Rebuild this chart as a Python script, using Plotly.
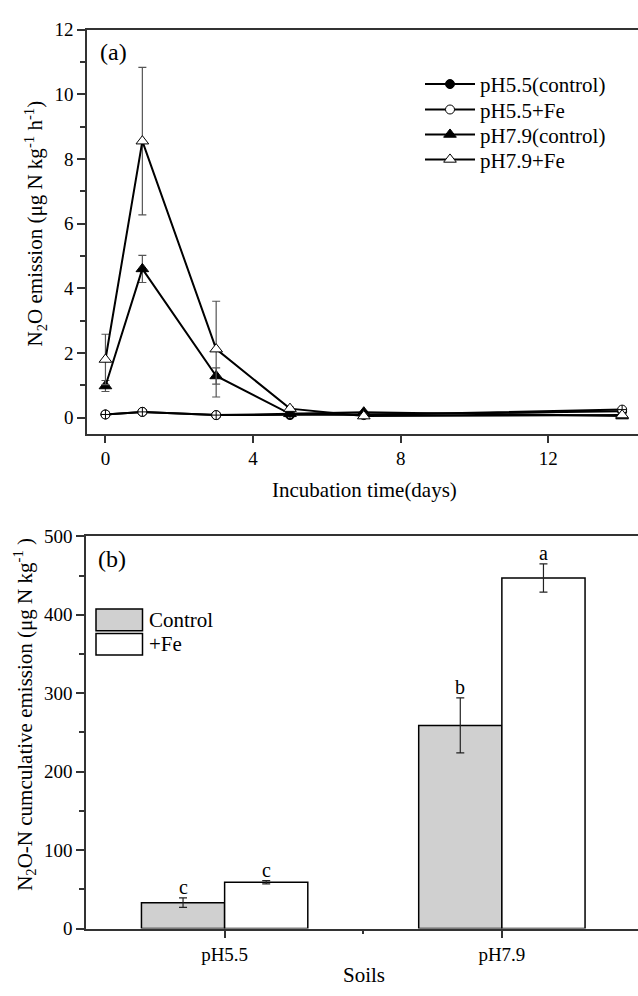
import plotly.graph_objects as go

# ---------------- data: panel (a) ----------------
days = [0, 1, 3, 5, 7, 14]
ph55_control = [0.10, 0.18, 0.08, 0.08, 0.10, 0.20]
ph55_control_err = [0.02, 0.02, 0.02, 0.02, 0.02, 0.02]
ph55_fe = [0.10, 0.18, 0.08, 0.12, 0.08, 0.25]
ph55_fe_err = [0.02, 0.02, 0.02, 0.02, 0.02, 0.02]
ph79_control = [0.98, 4.60, 1.29, 0.12, 0.17, 0.05]
ph79_control_err = [0.17, 0.42, 0.25, 0.03, 0.03, 0.02]
ph79_fe = [1.80, 8.55, 2.12, 0.28, 0.05, 0.08]
ph79_fe_err = [0.78, 2.28, 1.48, 0.05, 0.03, 0.03]
series_names = ["pH5.5(control)", "pH5.5+Fe", "pH7.9(control)", "pH7.9+Fe"]
a_xticks = [0, 4, 8, 12]
a_yticks = [0, 2, 4, 6, 8, 10, 12]

# ---------------- data: panel (b) ----------------
soils = ["pH5.5", "pH7.9"]
cum_control = [33, 259]
cum_control_err = [6, 35]
cum_fe = [59, 447]
cum_fe_err = [2, 18]
letters_control = ["c", "b"]
letters_fe = ["c", "a"]
b_yticks = [0, 100, 200, 300, 400, 500]

W, H = 638, 996
FONT = "Liberation Serif, Times New Roman, serif"
AX = "#333333"
ERR = "#555555"


def px_x(p):
    return p / W


def px_y(p):
    return 1 - p / H


fig = go.Figure()

line_style = dict(color="black", width=2)
mk_c_fill = dict(symbol="circle", size=9, color="black", line=dict(color="black", width=1))
mk_c_open = dict(symbol="circle", size=9, color="white", line=dict(color="black", width=1))
mk_c_cross = dict(symbol="circle-cross", size=9, color="white", line=dict(color="black", width=1))
mk_t_fill = dict(symbol="triangle-up", size=11, color="black", line=dict(color="black", width=1))
mk_t_open = dict(symbol="triangle-up", size=11, color="white", line=dict(color="black", width=1))


def err(arr):
    return dict(type="data", array=arr, color=ERR, thickness=1.2, width=4)


fig.add_trace(go.Scatter(x=days, y=ph55_control, name=series_names[0], mode="lines+markers",
                         line=line_style, marker=mk_c_fill, error_y=err(ph55_control_err),
                         xaxis="x", yaxis="y", legend="legend"))
fig.add_trace(go.Scatter(x=days, y=ph55_fe, name=series_names[1], mode="lines+markers",
                         line=line_style, marker=mk_c_cross, error_y=err(ph55_fe_err),
                         xaxis="x", yaxis="y", showlegend=False))
# legend-only key for pH5.5+Fe (plain open circle, as in the original key)
fig.add_trace(go.Scatter(x=[None], y=[None], name=series_names[1], mode="lines+markers",
                         line=line_style, marker=mk_c_open, xaxis="x", yaxis="y", legend="legend2"))
fig.add_trace(go.Scatter(x=days, y=ph79_control, name=series_names[2], mode="lines+markers",
                         line=line_style, marker=mk_t_fill, error_y=err(ph79_control_err),
                         xaxis="x", yaxis="y", legend="legend3"))
fig.add_trace(go.Scatter(x=days, y=ph79_fe, name=series_names[3], mode="lines+markers",
                         line=line_style, marker=mk_t_open, error_y=err(ph79_fe_err),
                         xaxis="x", yaxis="y", legend="legend4"))

# panel (b) bars
bar_x = list(range(len(soils)))
bar_err = dict(color="#222222", thickness=1.2, width=4)
fig.add_trace(go.Bar(x=bar_x, y=cum_control, name="Control", xaxis="x2", yaxis="y2",
                     marker=dict(color="#d0d0d0", line=dict(color="black", width=1.5)),
                     error_y=dict(type="data", array=cum_control_err, **bar_err),
                     showlegend=False, offsetgroup="c"))
fig.add_trace(go.Bar(x=bar_x, y=cum_fe, name="+Fe", xaxis="x2", yaxis="y2",
                     marker=dict(color="white", line=dict(color="black", width=1.5)),
                     error_y=dict(type="data", array=cum_fe_err, **bar_err),
                     showlegend=False, offsetgroup="f"))

TXT = 21
annotations = []
for i in range(len(soils)):
    annotations.append(dict(x=i - 0.15, y=cum_control[i] + cum_control_err[i], xref="x2", yref="y2",
                            text=letters_control[i], showarrow=False, xanchor="center", yanchor="middle",
                            yshift=11, font=dict(family=FONT, size=20, color="black")))
    annotations.append(dict(x=i + 0.15, y=cum_fe[i] + cum_fe_err[i], xref="x2", yref="y2",
                            text=letters_fe[i], showarrow=False, xanchor="center", yanchor="middle",
                            yshift=11, font=dict(family=FONT, size=20, color="black")))


def pann(x, y, text, size=TXT, xanchor="center", angle=0):
    return dict(x=px_x(x), y=px_y(y), xref="paper", yref="paper", text=text, showarrow=False,
                xanchor=xanchor, yanchor="middle", textangle=angle,
                font=dict(family=FONT, size=size, color="black"))


annotations += [
    pann(113, 43, "(a)", size=24),
    pann(112, 561, "(b)", size=24),
    pann(364, 490, "Incubation time(days)"),
    pann(364, 986, "Soils"),
    pann(35, 218, "N<sub>2</sub>O emission (μg N kg<sup>-1</sup> h<sup>-1</sup>)", angle=-90),
    pann(25, 720, "N<sub>2</sub>O-N cumculative emission (μg N kg<sup>-1</sup> )", angle=-90),
    pann(147, 623, "Control", xanchor="left"),
    pann(147, 648, "+Fe", xanchor="left"),
]

# key boxes for panel (b)
shapes = [
    dict(type="rect", xref="paper", yref="paper", x0=px_x(96), x1=px_x(142.5), y0=px_y(634), y1=px_y(612),
         fillcolor="#d0d0d0", line=dict(color="black", width=1.5)),
    dict(type="rect", xref="paper", yref="paper", x0=px_x(96), x1=px_x(142.5), y0=px_y(659), y1=px_y(637),
         fillcolor="white", line=dict(color="black", width=1.5)),
]

tickfont = dict(family=FONT, size=19, color="black")
axis_common = dict(showline=True, linecolor=AX, linewidth=1.5, ticks="outside", tickcolor=AX,
                   tickwidth=1.5, showgrid=False, zeroline=False, tickfont=tickfont)


def leg(ycenter):
    return dict(x=px_x(420), y=px_y(ycenter), xanchor="left", yanchor="middle",
                font=dict(family=FONT, size=TXT, color="black"), bgcolor="rgba(0,0,0,0)",
                itemwidth=50, borderwidth=0)


fig.update_layout(
    width=W, height=H,
    margin=dict(l=0, r=0, t=0, b=0),
    paper_bgcolor="white", plot_bgcolor="white",
    barmode="group", bargap=0.4, bargroupgap=0,
    showlegend=True,
    legend=leg(76), legend2=leg(102), legend3=leg(127.5), legend4=leg(153),
    xaxis=dict(domain=[px_x(87), 1], range=[-0.5, 14.43], tickvals=a_xticks, ticklen=7,
               mirror=True, anchor="y", **axis_common),
    yaxis=dict(domain=[px_y(433), px_y(20)], range=[-0.5, 12], tickvals=a_yticks, ticklen=8,
               minor=dict(dtick=1, ticks="outside", ticklen=5, tickcolor=AX, tickwidth=1.5),
               anchor="x", **axis_common),
    xaxis2=dict(domain=[px_x(86), 1], range=[-0.5, 1.491], tickvals=bar_x, ticktext=soils, ticklen=8,
                minor=dict(tickvals=[0.5], ticks="outside", ticklen=4, tickcolor=AX, tickwidth=1.5),
                mirror=True, anchor="y2", **axis_common),
    yaxis2=dict(domain=[px_y(938.3), px_y(537.7)], range=[0, 500], tickvals=b_yticks, ticklen=8,
                minor=dict(dtick=50, ticks="outside", ticklen=5, tickcolor=AX, tickwidth=1.5),
                anchor="x2", **axis_common),
    annotations=annotations,
    shapes=shapes,
    font=dict(family=FONT, color="black"),
)

fig.write_html(
    "out.html",
    config={"displayModeBar": False},
    post_script="document.body.style.margin='0';document.body.style.overflow='hidden';"
                "document.documentElement.style.overflow='hidden';",
)
